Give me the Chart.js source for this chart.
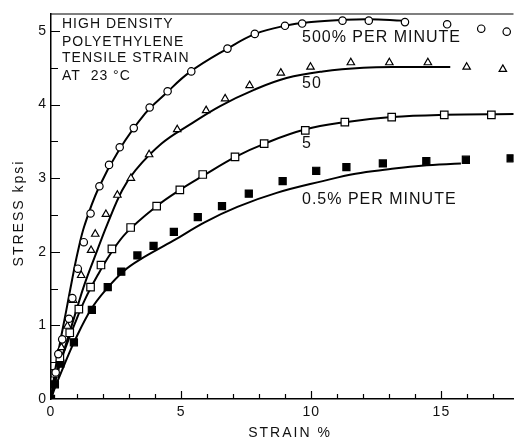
<!DOCTYPE html>
<html lang="en">
<head>
    <meta charset="utf-8">
    <title>HDPE tensile stress-strain</title>
    <script src="https://cdn.jsdelivr.net/npm/chart.js@4/dist/chart.umd.min.js"></script>
    <style>
        body {
            margin: 0;
            background: #fff;
        }

        #chart {
            display: block;
        }
    </style>
</head>
<body>
    <canvas id="chart" width="520" height="440"></canvas>

    <script>
        // axis ticks
        const xTicks = [0, 5, 10, 15];
        const yTicks = [0, 1, 2, 3, 4, 5];
        const xTickMarks = [1, 2, 3, 4, 5, 6, 7, 8, 9, 10, 11, 12, 13, 14, 15, 16, 17];
        const yTickMarks = [0.5, 1, 1.5, 2, 2.5, 3, 3.5, 4, 4.5, 5];

        // measured points, [strain %, stress kpsi]
        const pts500 = [[0.18, 0.36], [0.28, 0.61], [0.43, 0.81], [0.69, 1.09], [0.82, 1.37], [1.03, 1.77],
            [1.26, 2.13], [1.52, 2.52], [1.86, 2.89], [2.23, 3.18], [2.64, 3.42], [3.18, 3.68], [3.79, 3.96],
            [4.48, 4.18], [5.39, 4.45], [6.78, 4.76], [7.83, 4.96], [8.99, 5.07], [9.65, 5.10], [11.2, 5.14],
            [12.21, 5.14], [13.6, 5.12], [15.22, 5.09], [16.53, 5.03], [17.51, 4.99]];
        const pts50 = [[0.40, 0.70], [0.63, 0.99], [0.85, 1.34], [1.16, 1.68], [1.54, 2.02], [1.70, 2.24],
            [2.11, 2.51], [2.55, 2.77], [3.07, 3.0], [3.77, 3.32], [4.85, 3.66], [5.96, 3.92], [6.69, 4.08],
            [7.63, 4.26], [8.83, 4.43], [9.97, 4.51], [11.52, 4.57], [13.0, 4.57], [14.48, 4.57],
            [15.97, 4.51], [17.36, 4.48]];
        const pts5 = [[0.15, 0.35], [0.34, 0.56], [0.72, 0.90], [1.07, 1.22], [1.52, 1.52], [1.92, 1.82],
            [2.34, 2.04], [3.06, 2.33], [4.06, 2.62], [4.95, 2.84], [5.83, 3.05], [7.07, 3.29], [8.19, 3.47],
            [9.77, 3.65], [11.29, 3.76], [13.09, 3.83], [15.11, 3.86], [16.92, 3.86]];
        const pts05 = [[0, 0], [0.15, 0.2], [0.36, 0.48], [0.88, 0.77], [1.57, 1.21], [2.18, 1.52], [2.70, 1.73],
            [3.32, 1.95], [3.94, 2.08], [4.72, 2.27], [5.64, 2.47], [6.57, 2.62], [7.6, 2.79], [8.9, 2.96],
            [10.19, 3.10], [11.35, 3.15], [12.75, 3.20], [14.42, 3.23], [15.94, 3.25], [17.66, 3.27]];

        // fitted curves
        const fit500 = [[0, 0], [0.15, 0.37], [0.35, 0.77], [0.58, 1.19], [0.8, 1.6], [1.03, 2.0], [1.29, 2.36],
            [1.82, 2.86], [2.61, 3.38], [3.62, 3.88], [4.38, 4.14], [5.33, 4.44], [6.78, 4.76], [7.85, 4.96],
            [9.0, 5.07], [10.0, 5.12], [11.2, 5.15], [12.2, 5.16], [13.5, 5.14]];
        const fit50 = [[0, 0], [0.34, 0.47], [0.66, 0.84], [0.97, 1.2], [1.29, 1.56], [1.67, 1.92], [2.17, 2.38],
            [2.74, 2.84], [3.25, 3.11], [4.25, 3.47], [5.3, 3.72], [6.5, 3.98], [7.8, 4.2], [9.05, 4.36],
            [10.44, 4.45], [12.0, 4.5], [13.5, 4.51], [15.34, 4.51]];
        const fit5 = [[0, 0], [0.15, 0.29], [0.53, 0.67], [0.91, 1.02], [1.29, 1.34], [1.79, 1.68], [2.3, 1.98],
            [2.9, 2.26], [4.06, 2.62], [4.95, 2.84], [5.83, 3.03], [7.09, 3.29], [8.21, 3.47], [9.75, 3.66],
            [11.29, 3.76], [13.09, 3.83], [15.11, 3.86], [17.8, 3.87]];
        const fit05 = [[0, 0], [0.15, 0.15], [0.47, 0.43], [0.91, 0.79], [1.54, 1.22], [2.17, 1.51], [2.8, 1.74],
            [3.4, 1.89], [4.7, 2.15], [5.9, 2.40], [7.16, 2.61], [8.67, 2.8], [10.44, 2.96], [11.7, 3.06],
            [12.97, 3.12], [14.23, 3.17], [15.75, 3.20]];

        const xy = arr => arr.map(p => ({x: p[0], y: p[1]}));

        function markers(data, style, radius, fill) {
            return {
                type: 'scatter',
                data: xy(data),
                showLine: false,
                pointStyle: style,
                pointRadius: radius,
                pointBackgroundColor: fill,
                pointBorderColor: '#000',
                pointBorderWidth: 1.2,
                order: 0
            };
        }

        function curve(data) {
            return {
                type: 'line',
                data: xy(data),
                showLine: true,
                borderColor: '#000',
                borderWidth: 2,
                pointRadius: 0,
                tension: 0.4,
                fill: false,
                order: 1
            };
        }

        const FONT = '"Liberation Sans", Arial, sans-serif';

        // inward tick marks, top frame line and text labels
        const decor = {
            id: 'decor',
            beforeDraw(chart) {
                chart.ctx.letterSpacing = '1px';
            },
            afterDraw(chart) {
                const ctx = chart.ctx;
                const xs = chart.scales.x, ys = chart.scales.y;
                const a = chart.chartArea;
                ctx.save();
                ctx.strokeStyle = '#000';
                ctx.lineWidth = 1.2;
                ctx.beginPath();
                ctx.moveTo(a.left, a.top);
                ctx.lineTo(a.right, a.top);
                for (const v of xTickMarks) {
                    const px = Math.round(xs.getPixelForValue(v)) + 0.5;
                    const len = v % 5 === 0 ? 8 : 5;
                    ctx.moveTo(px, a.bottom);
                    ctx.lineTo(px, a.bottom - len);
                }
                for (const v of yTickMarks) {
                    const py = Math.round(ys.getPixelForValue(v)) + 0.5;
                    const len = Number.isInteger(v) ? 9 : 7;
                    ctx.moveTo(a.left, py);
                    ctx.lineTo(a.left + len, py);
                }
                ctx.stroke();

                ctx.fillStyle = '#111';
                ctx.textBaseline = 'middle';
                ctx.textAlign = 'left';

                ctx.font = '14px ' + FONT;
                ctx.letterSpacing = '1px';
                ctx.fillText('HIGH DENSITY', 62, 24);
                ctx.fillText('POLYETHYLENE', 62, 42);
                ctx.fillText('TENSILE STRAIN', 62, 58);
                ctx.fillText('AT  23 \u00B0C', 62, 76);

                ctx.font = '16px ' + FONT;
                ctx.fillText('500% PER MINUTE', 302, 38);
                ctx.fillText('50', 302, 84);
                ctx.fillText('5', 302, 144);
                ctx.fillText('0.5% PER MINUTE', 302, 200);

                // axis titles
                ctx.font = '14px ' + FONT;
                ctx.letterSpacing = '2px';
                ctx.textAlign = 'center';
                ctx.fillText('STRAIN %', 290, 433);
                ctx.translate(19, 213);
                ctx.rotate(-Math.PI / 2);
                ctx.fillText('STRESS kpsi', 0, 0);
                ctx.restore();
            }
        };

        new Chart(document.getElementById('chart').getContext('2d'), {
            data: {
                datasets: [
                    markers(pts500, 'circle', 3.7, '#fff'),
                    markers(pts50, 'triangle', 4.3, '#fff'),
                    markers(pts5, 'rect', 5.3, '#fff'),
                    markers(pts05, 'rect', 5, '#000'),
                    curve(fit500),
                    curve(fit50),
                    curve(fit5),
                    curve(fit05)
                ]
            },
            options: {
                responsive: false,
                animation: false,
                layout: {padding: {top: 14, right: 0, left: 0, bottom: 0}},
                plugins: {
                    legend: {display: false},
                    tooltip: {enabled: false}
                },
                scales: {
                    x: {
                        type: 'linear',
                        min: 0,
                        max: 17.77,
                        afterBuildTicks: s => { s.ticks = xTicks.map(v => ({value: v})); },
                        afterFit: s => { s.height = 41; },
                        grid: {display: false, drawTicks: false},
                        border: {display: true, color: '#000', width: 1.5},
                        ticks: {
                            color: '#111',
                            padding: 5,
                            maxRotation: 0,
                            font: {family: FONT, size: 14}
                        }
                    },
                    y: {
                        type: 'linear',
                        min: 0,
                        max: 5.23,
                        afterBuildTicks: s => { s.ticks = yTicks.map(v => ({value: v})); },
                        afterFit: s => { s.width = 51; },
                        grid: {display: false, drawTicks: false},
                        border: {display: true, color: '#000', width: 1.5},
                        ticks: {
                            color: '#111',
                            padding: 4,
                            font: {family: FONT, size: 14}
                        }
                    }
                }
            },
            plugins: [decor]
        });
    </script>
</body>
</html>
